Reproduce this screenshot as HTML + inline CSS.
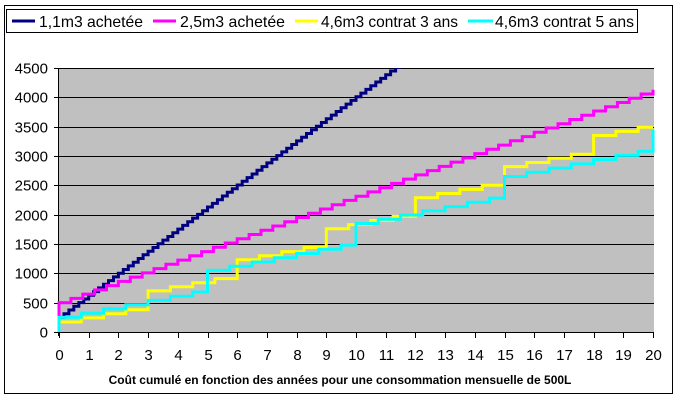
<!DOCTYPE html>
<html><head><meta charset="utf-8"><style>
body{margin:0;background:#fff;width:680px;height:400px;overflow:hidden}
svg{display:block;font-family:"Liberation Sans",Arial,sans-serif}
</style></head><body>
<svg id="s" width="680" height="400" xmlns="http://www.w3.org/2000/svg">
<rect x="4.5" y="5.5" width="668" height="388" fill="#fff" stroke="#000" stroke-width="1"/>
<rect x="59" y="68" width="595" height="264" fill="#c0c0c0"/>
<g id="grid" stroke="#000" stroke-width="1"></g>
<g id="lbl" font-size="15" fill="#000"></g>
<g id="ser" fill="none" stroke-width="3" stroke-linejoin="miter"></g>
<text x="340" y="384" font-size="12" font-weight="bold" text-anchor="middle">Coût cumulé en fonction des années pour une consommation mensuelle de 500L</text>
<rect x="6.5" y="9.5" width="631" height="23" fill="#fff" stroke="#000"/>
<g font-size="16">
<line x1="12" y1="21" x2="35" y2="21" stroke="#000080" stroke-width="3"/><text x="39" y="27" textLength="104" lengthAdjust="spacingAndGlyphs">1,1m3 achetée</text>
<line x1="153" y1="21" x2="176" y2="21" stroke="#ff00ff" stroke-width="3"/><text x="180" y="27" textLength="105" lengthAdjust="spacingAndGlyphs">2,5m3 achetée</text>
<line x1="295" y1="21" x2="318" y2="21" stroke="#ffff00" stroke-width="3"/><text x="321" y="27" textLength="137" lengthAdjust="spacingAndGlyphs">4,6m3 contrat 3 ans</text>
<line x1="468" y1="21" x2="493" y2="21" stroke="#00ffff" stroke-width="3"/><text x="495" y="27" textLength="139" lengthAdjust="spacingAndGlyphs">4,6m3 contrat 5 ans</text>
</g>
</svg>
<script>
var NS="http://www.w3.org/2000/svg",X0=59,X1=653,Y0=332,Y1=68;
function X(t){return X0+t*(X1-X0)/20}
function Y(v){return Y0-v*(Y0-Y1)/4500}
function el(n,a,p,txt){var e=document.createElementNS(NS,n);for(var k in a)e.setAttribute(k,a[k]);if(txt!=null)e.textContent=txt;document.getElementById(p).appendChild(e);return e}
for(var v=500;v<=4500;v+=500){var y=Math.round(Y(v))+0.5;el('line',{x1:X0,x2:654,y1:y,y2:y},'grid');}
el('line',{x1:58.5,x2:58.5,y1:68,y2:336},'grid');
for(var v=0;v<=4500;v+=500){var y=Math.round(Y(v))+0.5;el('line',{x1:54,x2:59,y1:y,y2:y},'grid');el('text',{x:48,y:y+5,'text-anchor':'end'},'lbl',v);}
el('line',{x1:X0,x2:654,y1:332.5,y2:332.5},'grid');
for(var t=0;t<=20;t++){var x=Math.round(X(t))+0.5;el('line',{x1:x,x2:x,y1:332,y2:338},'grid');el('text',{x:x,y:360,'text-anchor':'middle'},'lbl',t);}
function stair(f,dt,start){var d="M"+X(0)+","+Y(start);var prev=f(0);d+=" L"+X(0)+","+Y(prev);
 for(var t=dt;t<=20.0001;t+=dt){var v=f(t);d+=" L"+X(t).toFixed(1)+","+Y(prev).toFixed(1)+" L"+X(t).toFixed(1)+","+Y(v).toFixed(1);prev=v;}
 return d}
function add(d,c,clip){el('path',{d:d,stroke:c,'clip-path':clip?'url(#cp)':''},'ser')}
var defs=el('defs',{},'s');var cp=document.createElementNS(NS,'clipPath');cp.setAttribute('id','cp');defs.appendChild(cp);
var r=document.createElementNS(NS,'rect');r.setAttribute('x',50);r.setAttribute('y',68);r.setAttribute('width',620);r.setAttribute('height',280);cp.appendChild(r);
add(stair(function(t){return 250+376*t},1/6,250),'#000080',true);
add(stair(function(t){return 500+181.5*t},0.4,250),'#ff00ff',false);
add(stair(function(t){var p=Math.floor(t/3+1e-6);var w=t-3*p;return 170+p*(280+250)+Math.floor(w/0.75+1e-6)*70},0.25,0),'#ffff00',false);
add(stair(function(t){var p=Math.floor(t/5+1e-6);var w=t-5*p;return 250+p*(480+320)+Math.floor(w/0.75+1e-6)*72},0.25,0),'#00ffff',false);
</script>
</body></html>
